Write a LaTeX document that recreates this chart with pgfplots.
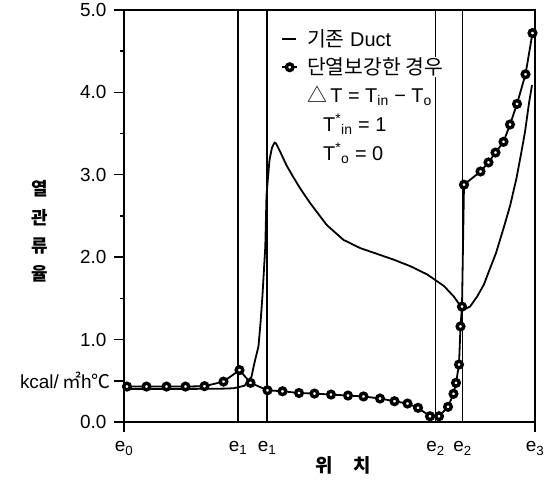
\documentclass[border=0pt]{standalone}
\usepackage{fontspec}
\setmainfont{Liberation Sans}
\newfontfamily\cjk{Noto Sans CJK KR}
\usepackage{pgfplots}
\pgfplotsset{compat=1.18}
\pgfplotsset{
  plainleg/.style={legend image code/.code={\draw[##1] (0bp,0bp)--(14bp,0bp);}},
  markleg/.style={legend image code/.code={\draw[mark repeat=2, mark phase=2, ##1] plot coordinates {(0bp,0bp)(7.5bp,0bp)(15bp,0bp)};}},
}

\begin{document}
\begin{tikzpicture}
\useasboundingbox (-124bp,-63bp) rectangle (427bp,422bp);
\begin{axis}[
  at={(0,0)}, anchor=south west,
  scale only axis, width=411bp, height=412bp,
  xmin=0, xmax=411, ymin=0, ymax=5,
  axis line style={line width=1.6bp},
  tick align=outside, ytick pos=left, xtick pos=bottom,
  major tick length=10bp, minor tick length=4bp,
  every tick/.style={black, line width=1.4bp},
  xtick={0,411}, xticklabels={e\textsubscript{0}, e\textsubscript{3}},
  extra x ticks={114,143,311.5,338.5},
  extra x tick labels={e\textsubscript{1},e\textsubscript{1},e\textsubscript{2},e\textsubscript{2}},
  extra x tick style={grid=major, tick style={draw=none}},
  major grid style={black, line width=1.2bp},
  ytick={0,0.5,1,2,3,4,5},
  yticklabels={0.0,kcal/\,{\cjk ㎡}h{\cjk ℃}\hspace*{-4bp},1.0,2.0,3.0,4.0,5.0},
  minor ytick={1.5,2.5,3.5,4.5},
  tick label style={font=\fontsize{19}{20}\selectfont},
  yticklabel style={xshift=-4bp},
  xticklabel style={yshift=-6bp},
  xlabel={위\hspace{20bp}치},
  xlabel style={at={(axis description cs:0.533,0)}, anchor=center, yshift=-43bp, font=\fontsize{19}{20}\selectfont\cjk\bfseries},
  ylabel={열\\관\\류\\율},
  ylabel style={rotate=-90, at={(axis description cs:-0.204,0.462)}, anchor=center, align=center, font=\fontsize{18}{28.5}\selectfont\cjk\bfseries},
  legend cell align=left,
  legend style={at={(axis description cs:0.375,0.96)}, anchor=north west, draw=none, fill=none,
    font=\fontsize{20}{20}\selectfont, row sep=8bp,
    nodes={fill=white, inner sep=1bp},
    /tikz/every odd column/.style={column sep=8bp}},
]
\addplot[black, line width=1.8bp, plainleg] coordinates {
(0,0.40) (50,0.40) (100,0.405) (110,0.41) (120.5,0.44) (127.5,0.55) (130.5,0.72)
(134.5,0.92) (136.5,1.2) (138.4,1.52) (141.3,2.13) (142.5,2.75) (145.5,3.18)
(148,3.33) (150.5,3.39) (152,3.38) (155.4,3.30) (162.3,3.12) (168.9,2.98)
(175.4,2.85) (185.9,2.66) (202.8,2.39) (219.5,2.21) (236.3,2.11) (253.1,2.04)
(269.7,1.97) (286.5,1.89) (303.3,1.79) (320,1.65) (330,1.52) (336.9,1.40)
(339,1.36) (346,1.40) (353,1.52) (360,1.67) (364,1.80) (372,2.05) (380,2.37)
(386,2.62) (392.5,2.96) (397,3.25) (401,3.52) (405,3.87) (408,4.09)
};
\addlegendentry{{\cjk\fontsize{20.5}{20}\selectfont 기존} Duct}
\addplot[black, line width=1.8bp, mark=*, mark size=3.3bp,
  mark options={fill=white, line width=3.4bp}, markleg] coordinates {
(3,0.43) (22.5,0.43) (42.5,0.43) (61.5,0.43) (80.5,0.435) (99.5,0.49)
(115.5,0.63) (126.5,0.475) (143.5,0.385) (158.5,0.373) (175,0.352) (190.5,0.345)
(207,0.333) (224,0.321) (239.5,0.31) (256,0.285) (270.5,0.252) (283.5,0.224)
(294,0.172) (306,0.07) (315,0.07) (324,0.184) (329.5,0.342) (332,0.475)
(335,0.697) (336.5,1.16) (338,1.40) (340,2.88) (356.5,3.04) (364.5,3.15)
(371.5,3.27) (379.5,3.40) (386,3.61) (393,3.86) (401.5,4.22) (408.5,4.72)
};
\addlegendentry{\cjk\fontsize{20.5}{20}\selectfont 단열보강한 경우}
\addlegendimage{empty legend}
\addlegendentry{{\cjk △}\,T = T\textsubscript{in} − T\textsubscript{o}}
\addlegendimage{empty legend}
\addlegendentry{\hspace*{16bp}T\textsuperscript{*}\textsubscript{in} = 1}
\addlegendimage{empty legend}
\addlegendentry{\hspace*{16bp}T\textsuperscript{*}\textsubscript{o} = 0}
\end{axis}
\end{tikzpicture}
\end{document}
